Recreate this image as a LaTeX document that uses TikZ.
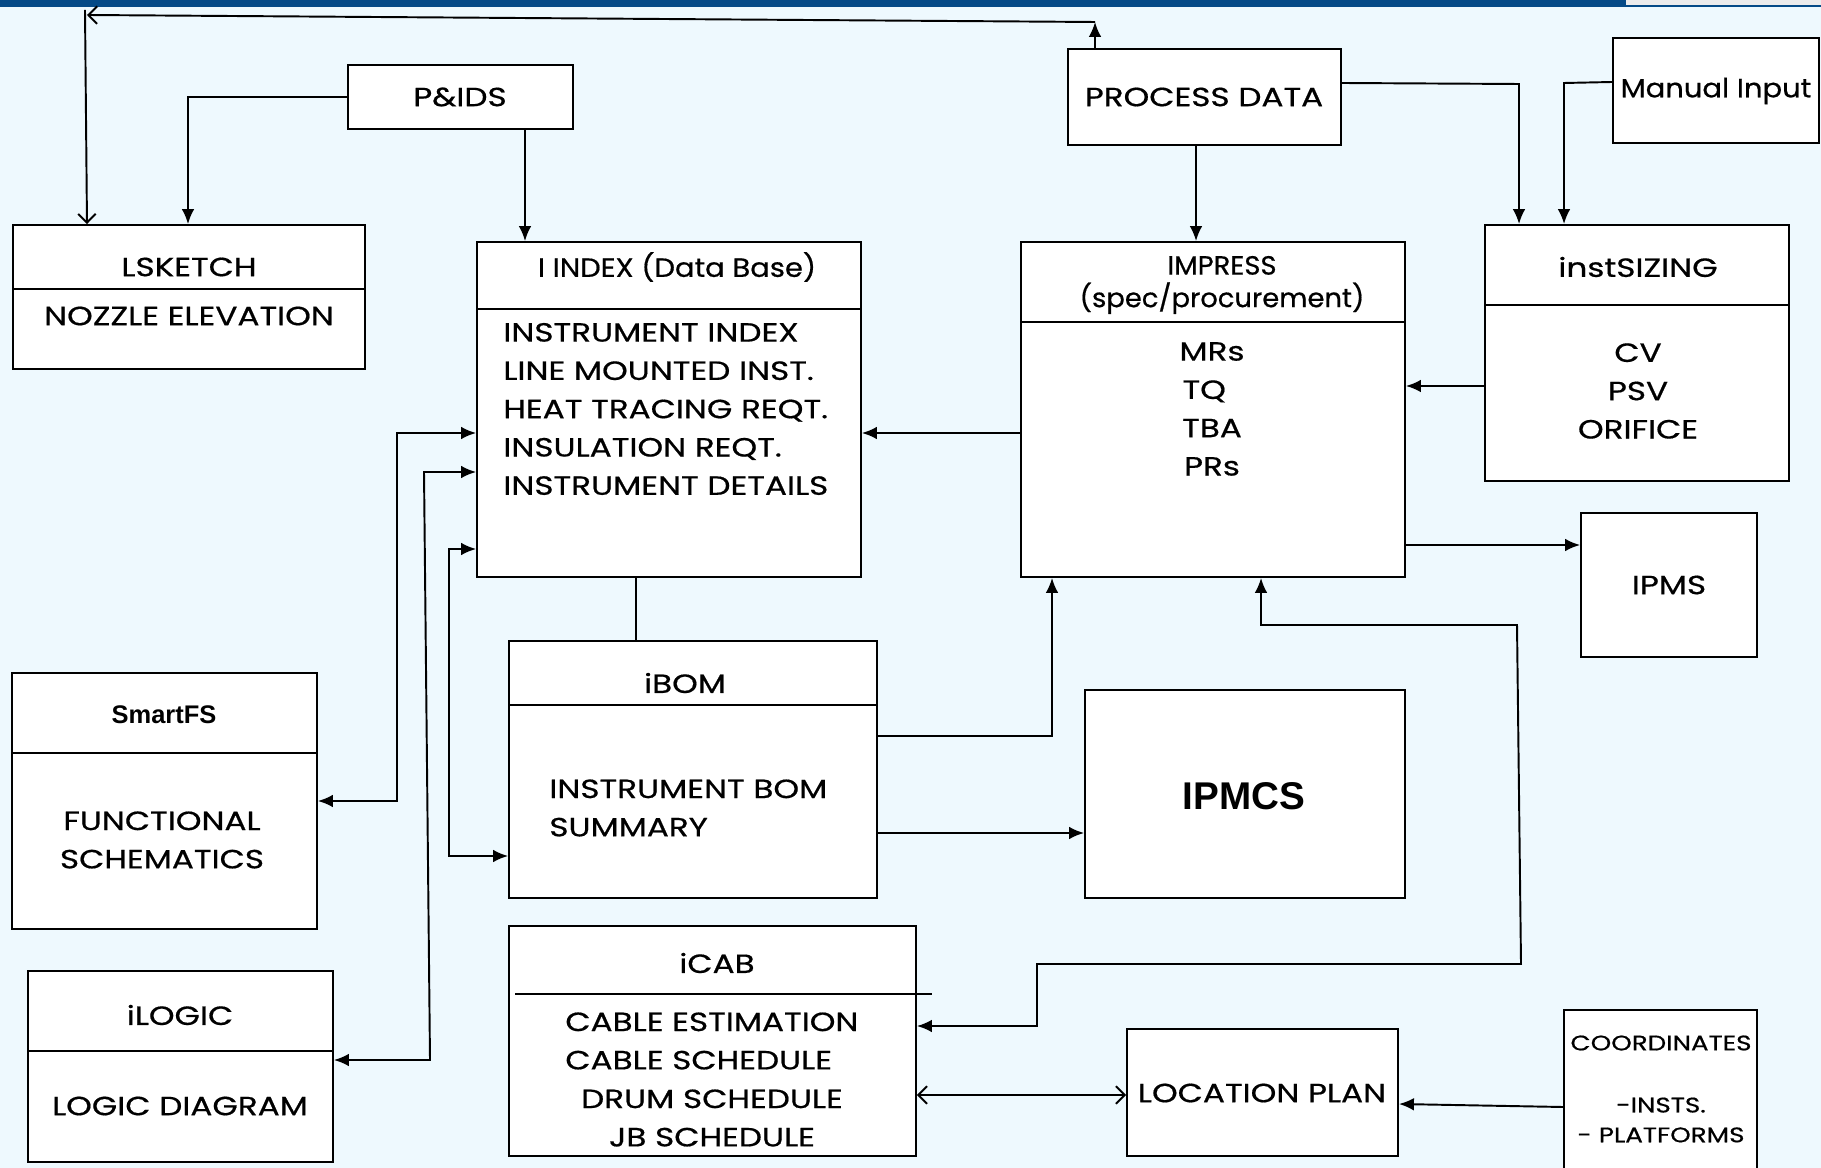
\documentclass[tikz,border=0pt]{standalone}
\usepackage{fontspec}
\setmainfont{Poppins}[FakeStretch=1.24, FakeBold=0.6]
\newfontfamily\mixfont{Poppins}[FakeStretch=1.1, FakeBold=0.6]
\newfontfamily\narrowfont{Poppins}[FakeStretch=1.04, FakeBold=0.6]
\newfontfamily\arialfont{Liberation Sans}
\usetikzlibrary{arrows.meta,fit}

\definecolor{bgblue}{RGB}{238,249,254}
\definecolor{barblue}{RGB}{5,74,135}

\tikzset{
  box/.style={draw, fill=white, line width=1.1pt, inner sep=0pt},
  txt/.style={font=\fontsize{15}{21.8}\selectfont, inner sep=0pt, align=center},
  small/.style={font=\fontsize{12}{17}\selectfont, inner sep=0pt, align=center},
  conn/.style={line width=1.1pt},
  arr/.style={conn, -{Latex[length=8.5pt,width=7.2pt]}},
  darr/.style={conn, {Latex[length=8.5pt,width=7.2pt]}-{Latex[length=8.5pt,width=7.2pt]}},
  oarr/.style={conn, -{Straight Barb[length=5pt,width=10pt]}},
  doarr/.style={conn, {Straight Barb[length=5pt,width=10pt]}-{Straight Barb[length=5pt,width=10pt]}},
}

\begin{document}
\begin{tikzpicture}[x=0.02cm, y=-0.02cm]

  % 背景と上の帯
  \fill[bgblue] (0,0) rectangle (1821,1168);
  \fill[barblue] (0,0) rectangle (1821,7);
  \fill[gray!15] (1626,0) rectangle (1821,5);
  \useasboundingbox (0,0) rectangle (1821,1168);

  % 箱
  \node[box, fit={(348,65) (573,129)}] (pid) {};
  \node[box, fit={(1068,49) (1341,145)}] (proc) {};
  \node[box, fit={(1613,38) (1819,143)}] (manual) {};
  \node[box, fit={(13,225) (365,369)}] (lsketch) {};
  \node[box, fit={(477,242) (861,577)}] (iindex) {};
  \node[box, fit={(1021,242) (1405,577)}] (impress) {};
  \node[box, fit={(1485,225) (1789,481)}] (sizing) {};
  \node[box, fit={(1581,513) (1757,657)}] (ipms) {};
  \node[box, fit={(12,673) (317,929)}] (smartfs) {};
  \node[box, fit={(28,971) (333,1162)}] (ilogic) {};
  \node[box, fit={(509,641) (877,898)}] (ibom) {};
  \node[box, fit={(1085,690) (1405,898)}] (ipmcs) {};
  \node[box, fit={(509,926) (916,1156)}] (icab) {};
  \node[box, fit={(1127,1029) (1398,1156)}] (loc) {};
  \node[box, fit={(1564,1010) (1757,1180)}] (coord) {};

  % 区切り線
  \draw[conn] (lsketch.west |- 0,289) -- (lsketch.east |- 0,289);
  \draw[conn] (iindex.west |- 0,309) -- (iindex.east |- 0,309);
  \draw[conn] (impress.west |- 0,322) -- (impress.east |- 0,322);
  \draw[conn] (sizing.west |- 0,305) -- (sizing.east |- 0,305);
  \draw[conn] (smartfs.west |- 0,753) -- (smartfs.east |- 0,753);
  \draw[conn] (ilogic.west |- 0,1051) -- (ilogic.east |- 0,1051);
  \draw[conn] (ibom.west |- 0,705) -- (ibom.east |- 0,705);
  \draw[conn] (515,994) -- (932,994);

  % 文字
  \node[txt] (pidT) at (460,97) {P\&IDS};
  \node[txt] (procT) at (1204,97) {PROCESS DATA};
  \node[txt, font=\mixfont\fontsize{15}{21.8}\selectfont] (manualT) at (1716,91) {Manual Input};
  \node[txt] (lsketchT) at (189,267) {LSKETCH};
  \node[txt] (lsketchB) at (189,316) {NOZZLE ELEVATION};
  \node[txt, font=\mixfont\fontsize{15}{21.8}\selectfont] (iindexT) at (677,267) {I INDEX (Data Base)};
  \node[txt, anchor=west, align=left] (iindexB) at (503,409)
    {INSTRUMENT INDEX\\LINE MOUNTED INST.\\HEAT TRACING REQT.\\INSULATION REQT.\\INSTRUMENT DETAILS};
  \node[txt, font=\narrowfont\fontsize{15}{18.5}\selectfont] (impressT) at (1222,285) {IMPRESS\\(spec/procurement)};
  \node[txt] (impressB) at (1212,409) {MRs\\\makebox[1.18cm][l]{TQ}\\TBA\\PRs};
  \node[txt] (sizingT) at (1638,267) {instSIZING};
  \node[txt] (sizingB) at (1638,391) {CV\\PSV\\ORIFICE};
  \node[txt] (ipmsT) at (1669,585) {IPMS};
  \node[txt, font=\arialfont\bfseries\fontsize{14.5}{18}\selectfont] (smartfsT) at (164,715) {SmartFS};
  \node[txt] (smartfsB) at (162,840) {FUNCTIONAL\\SCHEMATICS};
  \node[txt] (ilogicT) at (180,1015) {iLOGIC};
  \node[txt] (ilogicB) at (180,1106) {LOGIC DIAGRAM};
  \node[txt] (ibomT) at (685,683) {iBOM};
  \node[txt, anchor=west, align=left] (ibomB) at (549,808) {INSTRUMENT BOM\\SUMMARY};
  \node[txt, font=\arialfont\bfseries\fontsize{22}{26}\selectfont] (ipmcsT) at (1244,796) {IPMCS};
  \node[txt] (icabT) at (717,963) {iCAB};
  \node[txt, anchor=west, align=left] (icabB1) at (565,1041) {CABLE ESTIMATION\\CABLE SCHEDULE};
  \node[txt] (icabB2) at (712,1118) {DRUM SCHEDULE\\JB SCHEDULE};
  \node[txt] (locT) at (1262,1093) {LOCATION PLAN};
  \node[small] (coordT) at (1661,1043) {COORDINATES};
  \node[small] (coordB) at (1661,1120) {-INSTS.\\- PLATFORMS};

  % 上のつながり
  \draw[arr] (pid.west) -| (lsketch.north -| 188,0);
  \draw[arr] (pid.south -| 525,0) -- (iindex.north -| 525,0);
  \draw[arr] (proc.north -| 1095,0) -- (1095,22) coordinate (topR);
  \coordinate (topL) at (87,15);
  \coordinate (topS) at (85,10);
  \draw[oarr] (topR) -- (topL);
  \draw[oarr] (topS) -- (lsketch.north -| 87,0);
  \draw[arr] (proc.east |- 0,83) -- (1519,84) -- (sizing.north -| 1519,0);
  \draw[arr] (manual.west |- 0,82) -- (1564,83) -- (sizing.north -| 1564,0);
  \draw[arr] (proc.south -| 1196,0) -- (impress.north -| 1196,0);

  % 真ん中
  \draw[arr] (sizing.west |- 0,386) -- (impress.east |- 0,386);
  \draw[arr] (impress.west |- 0,433) -- (iindex.east |- 0,433);
  \draw[arr] (impress.east |- 0,545) -- (ipms.west |- 0,545);
  \draw[conn] (iindex.south -| 636,0) -- (ibom.north -| 636,0);
  \draw[arr] (ibom.east |- 0,736) -| (impress.south -| 1052,0);
  \draw[arr] (ibom.east |- 0,833) -- (ipmcs.west |- 0,833);
  \draw[darr] (icab.east |- 0,1026) -- (1037,1026) -- (1037,964) -- (1521,964)
    -- (1517,625) -- (1261,625) -- (impress.south -| 1261,0);

  % 下
  \draw[doarr] (icab.east |- 0,1095) -- (loc.west |- 0,1095);
  \draw[arr] (coord.west |- 0,1107) -- (loc.east |- 0,1104);

  % 左の線
  \draw[darr] (iindex.west |- 0,433) -- (397,433) -- (397,801) -- (smartfs.east |- 0,801);
  \draw[darr] (iindex.west |- 0,472) -- (424,472) -- (430,1060) -- (ilogic.east |- 0,1060);
  \draw[darr] (iindex.west |- 0,549) -- (449,549) -- (449,856) -- (ibom.west |- 0,856);
\end{tikzpicture}
\end{document}
